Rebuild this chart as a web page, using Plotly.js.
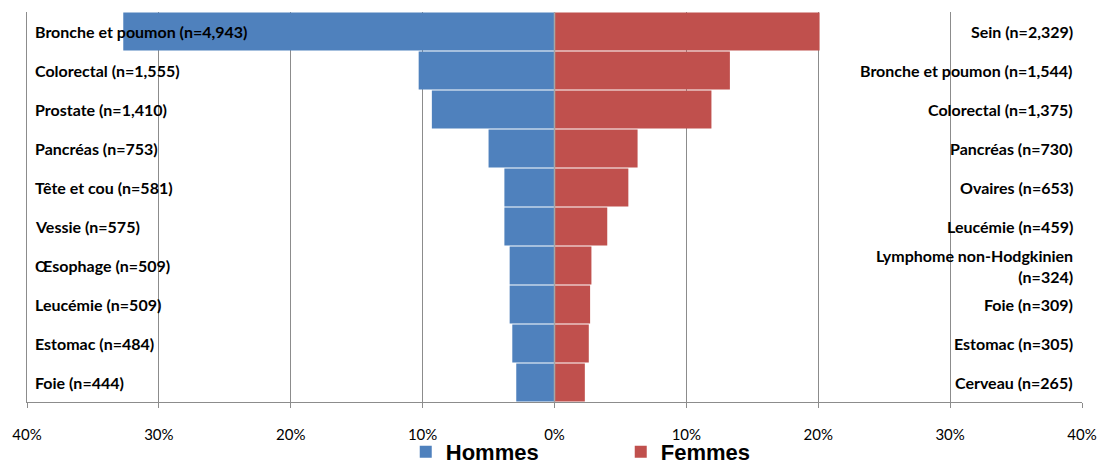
<!DOCTYPE html>
<html>
<head>
<meta charset="utf-8">
<script src="https://cdn.plot.ly/plotly-3.0.1.min.js"></script>
<style>
  html, body { margin: 0; padding: 0; background: #fff; }
  #chart { width: 1100px; height: 463px; }
</style>
</head>
<body>
<div id="chart"></div>
<script>
// Rank of each cancer site (1 = most frequent), shared by both sexes
const ranks = ['1', '2', '3', '4', '5', '6', '7', '8', '9', '10'];

// Men: site, case count, share of all male cases (%)
const menSites = ['Bronche et poumon', 'Colorectal', 'Prostate', 'Pancréas', 'Tête et cou',
                  'Vessie', 'Œsophage', 'Leucémie', 'Estomac', 'Foie'];
const menCounts = [4943, 1555, 1410, 753, 581, 575, 509, 509, 484, 444];
const menPct = [32.7, 10.3, 9.3, 5.0, 3.8, 3.8, 3.4, 3.4, 3.2, 2.9];

// Women: site, case count, share of all female cases (%)
const womenSites = ['Sein', 'Bronche et poumon', 'Colorectal', 'Pancréas', 'Ovaires',
                    'Leucémie', 'Lymphome non-Hodgkinien', 'Foie', 'Estomac', 'Cerveau'];
const womenCounts = [2329, 1544, 1375, 730, 653, 459, 324, 309, 305, 265];
const womenPct = [20.1, 13.3, 11.9, 6.3, 5.6, 4.0, 2.8, 2.7, 2.6, 2.3];

// Axis ticks, shown as absolute percentages on both sides
const tickValues = [-40, -30, -20, -10, 0, 10, 20, 30, 40];
const tickLabels = ['40%', '30%', '20%', '10%', '0%', '10%', '20%', '30%', '40%'];

const BLUE = '#4F81BD';
const RED = '#C0504D';
const GRID = '#8c8c8c';

function siteLabel(name, n) {
  const count = '(n=' + n.toLocaleString('en-US') + ')';
  return name.length > 20 ? name + '<br>' + count : name + ' ' + count;
}

const traces = [
  {
    type: 'bar', orientation: 'h', name: 'Hommes',
    y: ranks, x: menPct.map(v => -v),
    marker: { color: BLUE, line: { width: 0 } },
    hoverinfo: 'skip'
  },
  {
    type: 'bar', orientation: 'h', name: 'Femmes',
    y: ranks, x: womenPct,
    marker: { color: RED, line: { width: 0 } },
    hoverinfo: 'skip'
  }
];

const labelFont = { family: 'Lato, sans-serif', size: 16, color: '#000', weight: 'bold' };
const annotations = [];
ranks.forEach((r, i) => {
  annotations.push({
    x: -40, y: r, xref: 'x', yref: 'y', xanchor: 'left', yanchor: 'middle',
    xshift: 6, showarrow: false, align: 'left',
    text: siteLabel(menSites[i], menCounts[i]), font: labelFont
  });
  annotations.push({
    x: 40, y: r, xref: 'x', yref: 'y', xanchor: 'right', yanchor: 'middle',
    xshift: -7, showarrow: false, align: 'right',
    text: siteLabel(womenSites[i], womenCounts[i]), font: labelFont
  });
});

const layout = {
  width: 1100, height: 463,
  margin: { l: 27, r: 18, t: 12, b: 61, autoexpand: false },
  paper_bgcolor: '#fff', plot_bgcolor: '#fff',
  barmode: 'overlay', bargap: 0.03,
  showlegend: true,
  legend: {
    orientation: 'h', x: 0.359, xanchor: 'left', y: -0.128, yanchor: 'middle',
    bgcolor: 'rgba(0,0,0,0)', borderwidth: 0,
    font: { family: 'Liberation Sans, Arial, sans-serif', size: 22, color: '#000', weight: 'bold' },
    entrywidth: 170, traceorder: 'normal', itemclick: false
  },
  xaxis: {
    range: [-40, 40], tickvals: tickValues, ticktext: tickLabels,
    showgrid: true, gridcolor: GRID, gridwidth: 1,
    zeroline: false, showline: true, linecolor: GRID, linewidth: 1,
    ticks: 'outside', ticklen: 5, tickcolor: GRID, ticklabelstandoff: 14,
    tickfont: { family: 'Lato, sans-serif', size: 15, color: '#000' },
    fixedrange: true
  },
  yaxis: {
    autorange: 'reversed', showticklabels: false, ticks: '',
    showgrid: false, zeroline: false,
    showline: true, linecolor: GRID, linewidth: 1,
    fixedrange: true
  },
  shapes: [
    { type: 'line', xref: 'x', yref: 'paper', x0: 0, x1: 0, y0: 0, y1: 1,
      line: { color: '#a6a6a6', width: 1.5 }, layer: 'above' }
  ],
  annotations: annotations
};

Plotly.newPlot('chart', traces, layout, { displayModeBar: false, staticPlot: true });
</script>
</body>
</html>
